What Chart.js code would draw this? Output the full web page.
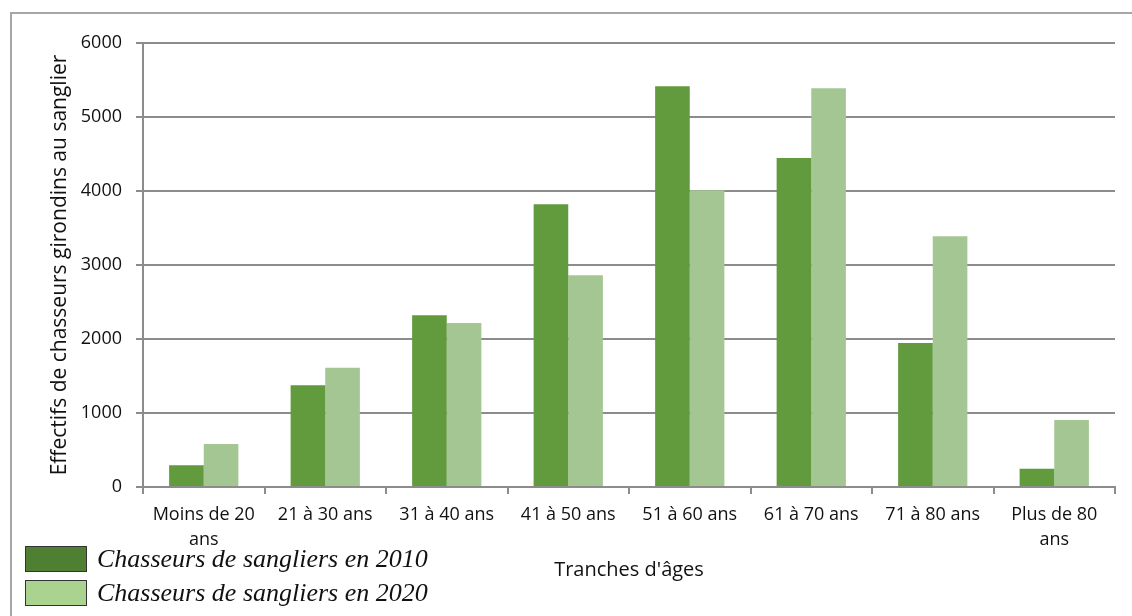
<!DOCTYPE html>
<html>
<head>
<meta charset="utf-8">
<script src="https://cdn.jsdelivr.net/npm/chart.js@4"></script>
<style>
  html, body { margin: 0; padding: 0; background: #fff; }
  #cadre { position: absolute; left: 10px; top: 12px; width: 1130px; height: 610px; border-top: 2px solid #a6a6a6; border-left: 2px solid #a6a6a6; }
  #zone { position: absolute; left: 0; top: 0; width: 1132px; height: 616px; }
  #legende { position: absolute; left: 25px; top: 542px; font-family: "Liberation Serif", serif; font-style: italic; font-size: 26px; color: #111; }
  #legende div { display: flex; align-items: center; height: 34px; }
  #legende span.carre { display: inline-block; width: 60px; height: 24px; margin-right: 10px; border: 1px solid #333; }
</style>
</head>
<body>
<div id="cadre"></div>
<div id="zone"><canvas id="graphique" width="1132" height="616"></canvas></div>
<div id="legende"></div>
<script>
const tranches = [['Moins de 20', 'ans'], '21 à 30 ans', '31 à 40 ans', '41 à 50 ans', '51 à 60 ans', '61 à 70 ans', '71 à 80 ans', ['Plus de 80', 'ans']];
const chasseurs2010 = [295, 1375, 2320, 3820, 5415, 4445, 1945, 245];
const chasseurs2020 = [580, 1610, 2215, 2860, 4010, 5390, 3390, 905];
const nomsSeries = ['Chasseurs de sangliers en 2010', 'Chasseurs de sangliers en 2020'];
const couleursBarres = ['#629a3e', '#a3c692'];
const couleursLegende = ['#4f7f33', '#a9d38e'];

const police = '"Open Sans", sans-serif';
const gris = '#8c8c8c';

const ctx = document.getElementById('graphique').getContext('2d');
new Chart(ctx, {
    type: 'bar',
    data: {
        labels: tranches,
        datasets: [
            { label: nomsSeries[0], data: chasseurs2010, backgroundColor: couleursBarres[0], borderWidth: 0 },
            { label: nomsSeries[1], data: chasseurs2020, backgroundColor: couleursBarres[1], borderWidth: 0 }
        ]
    },
    options: {
        responsive: false,
        animation: false,
        layout: { padding: { left: 14, right: 17, top: 43, bottom: 0 } },
        plugins: { legend: { display: false }, tooltip: { enabled: false } },
        datasets: { bar: { categoryPercentage: 0.57, barPercentage: 1 } },
        scales: {
            x: {
                grid: { display: true, drawOnChartArea: false, color: gris, lineWidth: 2, tickLength: 7, offset: true },
                border: { color: gris, width: 2 },
                ticks: { color: '#111', font: { family: police, size: 18, lineHeight: 1.4 }, maxRotation: 0, autoSkip: false, padding: 8 },
                title: { display: true, text: "Tranches d'âges", color: '#111', font: { family: police, size: 20 }, padding: { top: 4, bottom: 34 } },
                afterFit: s => { s.height = 129; }
            },
            y: {
                min: 0, max: 6000,
                grid: { color: gris, lineWidth: 2, tickLength: 7 },
                border: { color: gris, width: 2 },
                ticks: { stepSize: 1000, color: '#111', font: { family: police, size: 18 }, padding: 14, callback: v => String(v) },
                title: { display: true, text: 'Effectifs de chasseurs girondins au sanglier', color: '#111', font: { family: police, size: 21 }, padding: { top: 33, bottom: 0 } },
                afterFit: s => { s.width = 129; }
            }
        }
    }
});

document.getElementById('legende').innerHTML = nomsSeries.map((nom, i) =>
    `<div><span class="carre" style="background:${couleursLegende[i]}"></span>${nom}</div>`).join('');
</script>
</body>
</html>
